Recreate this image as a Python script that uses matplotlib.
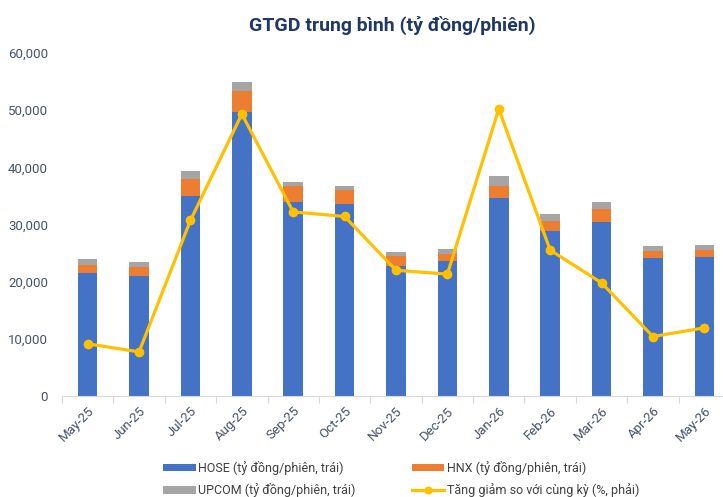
import matplotlib
matplotlib.use("Agg")
import matplotlib.pyplot as plt
import numpy as np

plt.rcParams['font.family'] = ['Roboto', 'DejaVu Sans']

months = ["May-25", "Jun-25", "Jul-25", "Aug-25", "Sep-25", "Oct-25", "Nov-25",
          "Dec-25", "Jan-26", "Feb-26", "Mar-26", "Apr-26", "May-26"]
hose = [21600, 21000, 35000, 49700, 34000, 33600, 22700, 23600, 34600, 28900, 30500, 24100, 24400]
hnx = [1300, 1600, 2900, 3700, 2700, 2400, 1800, 1300, 2200, 1700, 2200, 1300, 1200]
upcom = [1100, 900, 1400, 1600, 700, 700, 700, 900, 1600, 1200, 1200, 900, 800]
yoy_pct = [22.8, 19.3, 76.8, 123.3, 80.5, 78.5, 55.0, 53.3, 125.5, 63.8, 49.5, 26.0, 29.8]

c_hose = "#4472C4"
c_hnx = "#ED7D31"
c_upcom = "#A5A5A5"
c_line = "#FFC000"
tick_col = "#44546A"

fig = plt.figure(figsize=(7.23, 4.97), dpi=100)
ax = fig.add_axes([62/723, 1-396/497, (730-62)/723, (396-53)/497])
x = np.arange(len(months))
w = 0.38
hose_a = np.array(hose)
hnx_a = np.array(hnx)
upcom_a = np.array(upcom)
b1 = ax.bar(x, hose_a, w, color=c_hose, label="HOSE (tỷ đồng/phiên, trái)", zorder=2)
b2 = ax.bar(x, hnx_a, w, bottom=hose_a, color=c_hnx, label="HNX (tỷ đồng/phiên, trái)", zorder=2)
b3 = ax.bar(x, upcom_a, w, bottom=hose_a + hnx_a, color=c_upcom, label="UPCOM (tỷ đồng/phiên, trái)", zorder=2)

ax.set_xlim(-0.5, len(months) - 0.5)
ax.set_ylim(0, 60000)
ax.set_yticks(np.arange(0, 60001, 10000))
ax.set_yticklabels([f"{v:,}" for v in range(0, 60001, 10000)])
ax.tick_params(axis='y', length=0, labelsize=9.5, labelcolor=tick_col, pad=10)
ax.set_xticks(x)
ax.set_xticklabels(months, rotation=45, ha='right', rotation_mode='anchor')
ax.tick_params(axis='x', length=0, labelsize=9.5, labelcolor=tick_col, pad=6)
ax.set_xticks(np.arange(-0.5, len(months), 1), minor=True)
ax.tick_params(axis='x', which='minor', length=5, color="#D9D9D9", width=0.8)
for s in ['top', 'right', 'left']:
    ax.spines[s].set_visible(False)
ax.spines['bottom'].set_color("#D9D9D9")
ax.spines['bottom'].set_linewidth(0.8)

ax2 = ax.twinx()
ax2.set_ylim(0, 150)
l1, = ax2.plot(x, yoy_pct, color=c_line, lw=2.3, marker='o', markersize=6,
               label="Tăng giảm so với cùng kỳ (%, phải)", zorder=3)
ax2.axis('off')

fig.text(392/723, 1-25/497, "GTGD trung bình (tỷ đồng/phiên)", ha='center', va='center',
         fontsize=14, fontweight='bold', color="#1F3864")

leg = fig.legend([b1, b3, b2, l1],
                 ["HOSE (tỷ đồng/phiên, trái)", "UPCOM (tỷ đồng/phiên, trái)",
                  "HNX (tỷ đồng/phiên, trái)", "Tăng giảm so với cùng kỳ (%, phải)"],
                 ncol=2, loc='center', bbox_to_anchor=(0.555, 1-479/497), frameon=False,
                 fontsize=9, handlelength=2.6, handleheight=0.5, columnspacing=4.5,
                 labelspacing=0.7, handletextpad=0.2, markerscale=0.8)
for t in leg.get_texts():
    t.set_color("#404040")

fig.savefig("out.png", dpi=100)
